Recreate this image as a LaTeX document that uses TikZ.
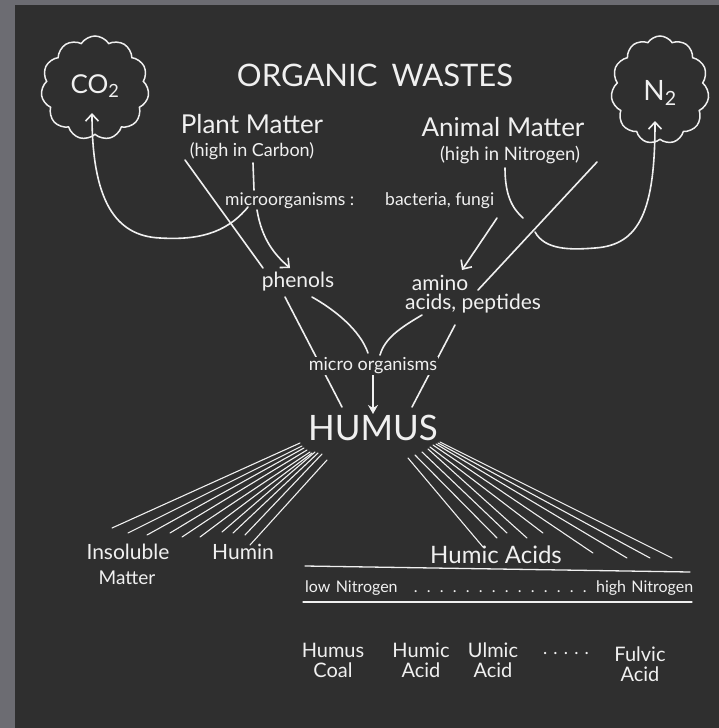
\documentclass[tikz,border=0pt]{standalone}
\usepackage{fontspec}
\setmainfont{Lato}
\usetikzlibrary{shapes.symbols,arrows.meta}

\definecolor{board}{HTML}{2F2F2F}
\definecolor{frame}{HTML}{6C6C72}
\definecolor{chalk}{HTML}{F0F0F0}

\tikzset{
  chalkline/.style={chalk, line width=1.6pt, line cap=round},
  chalkarrow/.style={chalkline, -{Straight Barb[length=7pt,width=13pt]}},
  fanline/.style={chalk, line width=1.1pt, line cap=round},
  gas/.style={cloud, cloud puffs=11, cloud puff arc=115, aspect=1, draw=chalk, line width=1.5pt},
  chalktext/.style={text=chalk, inner sep=1pt, align=center},
  mask/.style={chalktext, fill=board}
}
\newcommand{\fs}[1]{\fontsize{#1}{#1}\selectfont}
\newcommand{\chalkdots}{\leaders\hbox to 13pt{\hss.\hss}\hfill}

\begin{document}
\begin{tikzpicture}[x=1pt,y=-1pt]
\useasboundingbox (0,0) rectangle (719,728);
\fill[frame] (0,0) rectangle (719,728);
\fill[board] (15,5) rectangle (719,728);

% gases
\node[gas, minimum width=108pt, minimum height=104pt] (co2) at (95,88) {};
\node[chalktext, font=\fs{26}] (co2t) at (95,86) {CO\textsubscript{2}};
\node[gas, minimum width=98pt, minimum height=108pt] (n2) at (660,90) {};
\node[chalktext, font=\fs{28}] (n2t) at (660,93) {N\textsubscript{2}};

% sources
\node[chalktext, font=\fs{31}] (title) at (375,75) {ORGANIC\hspace{14pt}WASTES};
\node[chalktext, font=\fs{26}] (plant) at (252,124) {Plant Matter};
\node[chalktext, font=\fs{18}] (plantc) at (252,151) {(high in Carbon)};
\node[chalktext, font=\fs{26}] (animal) at (503,127) {Animal Matter};
\node[chalktext, font=\fs{18.5}] (animaln) at (510,155) {(high in Nitrogen)};
\node[chalktext, font=\fs{17.5}, anchor=west] (microa) at (224,201) {microorganisms :};
\node[chalktext, font=\fs{17.5}, anchor=west] (microb) at (384,201) {bacteria, fungi};

% products
\node[chalktext, font=\fs{21}] (phenols) at (298,282) {phenols};
\node[chalktext, font=\fs{21}] (amino) at (440,283) {amino};
\node[chalktext, font=\fs{21}] (acids) at (473,304) {acids, peptides};

\coordinate (pA) at (185,160);  \coordinate (pAe) at (263,268);
\coordinate (pB) at (253,163);  \coordinate (pBe) at (254,190);
\coordinate (pC) at (257,210);  \coordinate (pCe) at (290,268);
\coordinate (cS) at (248,207);  \coordinate (cM) at (160,238);
\coordinate (cE) at (92,113);
\coordinate (aA) at (505,168);  \coordinate (aAe) at (523,218);
\coordinate (aB) at (497,218);  \coordinate (aBe) at (462,270);
\coordinate (aC) at (597,162);  \coordinate (aCe) at (478,290);
\coordinate (nS) at (535,232);  \coordinate (nM) at (595,248);
\coordinate (nE) at (655,121);

\draw[chalkline] (pA) -- (pAe);
\draw[chalkline] (pB) -- (pBe);
\draw[chalkarrow] (pC) .. controls (262,240) and (275,255) .. (pCe);
\draw[chalkline] (cS) .. controls (225,235) and (195,240) .. (cM);
\draw[chalkarrow] (cM) .. controls (115,236) and (92,200) .. (cE);
\draw[chalkline] (aA) .. controls (505,195) and (512,208) .. (aAe);
\draw[chalkarrow] (aB) -- (aBe);
\draw[chalkline] (aC) -- (aCe);
\draw[chalkline] (nS) .. controls (545,250) and (570,250) .. (nM);
\draw[chalkarrow] (nM) .. controls (640,245) and (655,210) .. (nE);

% to humus
\coordinate (qA) at (285,297);  \coordinate (qAe) at (342,407);
\coordinate (qB) at (312,297);  \coordinate (qBe) at (368,353);
\coordinate (qC) at (422,315);  \coordinate (qCe) at (380,355);
\coordinate (qD) at (455,325);  \coordinate (qDe) at (412,407);
\draw[chalkline] (qA) -- (qAe);
\draw[chalkline] (qB) .. controls (335,310) and (360,330) .. (qBe);
\draw[chalkline] (qC) .. controls (400,328) and (385,338) .. (qCe);
\draw[chalkline] (qD) -- (qDe);

\node[mask, font=\fs{18}] (micro) at (373,366) {micro organisms};
\node[chalktext, font=\fs{35}] (humus) at (373,428) {HUMUS};
\draw[chalk, line width=2pt, -{Stealth[length=9pt,width=10pt]}] (micro.south) -- (humus.north);

% fractions
\foreach \sx/\sy/\ex/\ey in {300/443/112/528, 302/446/128/533, 304/448/147/535,
  307/450/170/533, 310/452/182/537, 312/453/200/537, 315/452/222/532,
  318/453/233/533, 322/454/245/535, 327/460/250/545}
  \draw[fanline] (\sx,\sy) -- (\ex,\ey);
\foreach \sx/\sy/\ex/\ey in {408/458/483/547, 415/455/497/538, 422/452/507/533,
  428/449/527/538, 430/447/543/533, 433/445/593/553, 436/444/627/558,
  438/443/650/558, 440/442/672/558}
  \draw[fanline] (\sx,\sy) -- (\ex,\ey);

\node[chalktext, font=\fs{21}] (insol) at (128,552) {Insoluble};
\node[chalktext, font=\fs{19}] (insolm) at (127,578) {Matter};
\node[chalktext, font=\fs{21}] (humin) at (243,552) {Humin};
\node[chalktext, font=\fs{24}] (humic) at (496,555) {Humic Acids};

\coordinate (rA) at (305,566);  \coordinate (rAe) at (690,572);
\coordinate (rB) at (303,602);  \coordinate (rBe) at (692,602);
\draw[chalkline, line width=1.3pt] (rA) -- (rAe);
\draw[chalkline, line width=1.3pt] (rB) -- (rBe);
\node[chalktext, font=\fs{16}, text width=388pt, align=left, anchor=west] (nitro) at (304,588)
  {low Nitrogen\chalkdots high Nitrogen};

\node[chalktext, font=\fs{20}] (coal) at (333,660) {Humus\\Coal};
\node[chalktext, font=\fs{20}] (hacid) at (421,660) {Humic\\Acid};
\node[chalktext, font=\fs{20}] (uacid) at (493,660) {Ulmic\\Acid};
\node[chalktext, font=\fs{18}] (dots) at (566,653) {. . . . .};
\node[chalktext, font=\fs{20}] (facid) at (640,664) {Fulvic\\Acid};
\end{tikzpicture}
\end{document}
